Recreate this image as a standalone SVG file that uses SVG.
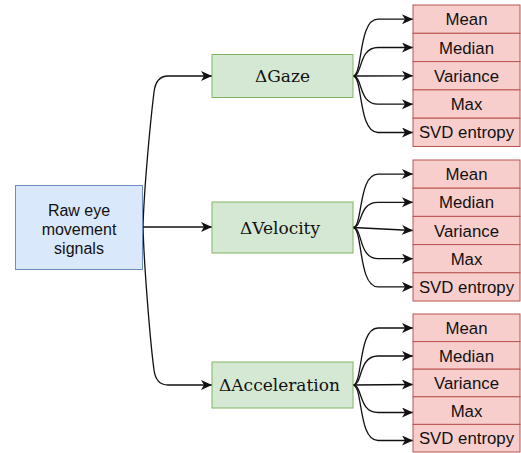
<svg xmlns="http://www.w3.org/2000/svg" width="521" height="453" viewBox="0 0 521 453">
<style>
.raw{fill:#dae8fc;stroke:#6c8ebf;stroke-width:1}
.feat{fill:#d5e8d4;stroke:#82b366;stroke-width:1}
.stat{fill:#f8cecc;stroke:#b85450;stroke-width:1}
.sans{font-family:"Liberation Sans",Arial,sans-serif;font-size:16px;fill:#111;text-anchor:middle}
.st{font-size:16.8px}
.serif{font-family:"DejaVu Serif","Liberation Serif",serif;font-size:17px;fill:#111;text-anchor:middle}
.edge{fill:none;stroke:#111;stroke-width:1.3;marker-end:url(#arr)}
</style>
<defs>
<marker id="arr" markerUnits="userSpaceOnUse" markerWidth="13" markerHeight="11" refX="11" refY="5" orient="auto">
<path d="M0,0 L11,5 L0,10 L3,5 Z" fill="#111"/>
</marker>
</defs>
<g id="connectors">
<path class="edge" d="M143,227 C144,190 150,125 154,92 Q156,76 168,76 L212,76"/>
<path class="edge" d="M143,227 L212,227"/>
<path class="edge" d="M143,227 C144,264 150,340 154,370 Q156,385 168,385 L212,385"/>
<path class="edge" d="M353,76 C363,76 358,19.2 378,19.2 L413,19.2"/>
<path class="edge" d="M353,76 C363,76 358,47.5 378,47.5 L413,47.5"/>
<path class="edge" d="M353,76 L413,75.8"/>
<path class="edge" d="M353,76 C363,76 358,104.2 378,104.2 L413,104.2"/>
<path class="edge" d="M353,76 C363,76 358,132.5 378,132.5 L413,132.5"/>
<path class="edge" d="M353,227.5 C363,227.5 358,174.1 378,174.1 L413,174.1"/>
<path class="edge" d="M353,227.5 C363,227.5 358,202.3 378,202.3 L413,202.3"/>
<path class="edge" d="M353,227.5 L413,230.5"/>
<path class="edge" d="M353,227.5 C363,227.5 358,258.7 378,258.7 L413,258.7"/>
<path class="edge" d="M353,227.5 C363,227.5 358,286.9 378,286.9 L413,286.9"/>
<path class="edge" d="M353,385 C363,385 358,328 378,328 L413,328"/>
<path class="edge" d="M353,385 C363,385 358,356 378,356 L413,356"/>
<path class="edge" d="M353,385 L413,384.5"/>
<path class="edge" d="M353,385 C363,385 358,412.5 378,412.5 L413,412.5"/>
<path class="edge" d="M353,385 C363,385 358,440.5 378,440.5 L413,440.5"/>
</g>
<g id="raw">
<rect class="raw" x="15.5" y="185.5" width="127" height="84"/>
<text class="sans" x="79" y="216">Raw eye</text>
<text class="sans" x="79" y="235">movement</text>
<text class="sans" x="79" y="254">signals</text>
</g>
<g id="gaze">
<rect class="feat" x="212" y="54.5" width="141" height="43"/>
<text class="serif" x="282.5" y="82">ΔGaze</text>
</g>
<g id="velocity">
<rect class="feat" x="212" y="202" width="141" height="51"/>
<text class="serif" x="280" y="233.5">ΔVelocity</text>
</g>
<g id="acceleration">
<rect class="feat" x="212" y="362" width="141" height="46"/>
<text class="serif" x="279.5" y="391">ΔAcceleration</text>
</g>
<g id="gaze-stats">
<rect class="stat" x="413" y="5" width="107" height="28.3"/>
<text class="sans st" x="466.5" y="25.2">Mean</text>
<rect class="stat" x="413" y="33.3" width="107" height="28.3"/>
<text class="sans st" x="466.5" y="53.5">Median</text>
<rect class="stat" x="413" y="61.6" width="107" height="28.3"/>
<text class="sans st" x="466.5" y="81.8">Variance</text>
<rect class="stat" x="413" y="89.9" width="107" height="28.3"/>
<text class="sans st" x="466.5" y="110.1">Max</text>
<rect class="stat" x="413" y="118.2" width="107" height="28.3"/>
<text class="sans st" x="466.5" y="138.4">SVD entropy</text>
</g>
<g id="velocity-stats">
<rect class="stat" x="413" y="160" width="107" height="28.2"/>
<text class="sans st" x="466.5" y="180.2">Mean</text>
<rect class="stat" x="413" y="188.2" width="107" height="28.2"/>
<text class="sans st" x="466.5" y="208.4">Median</text>
<rect class="stat" x="413" y="216.4" width="107" height="28.2"/>
<text class="sans st" x="466.5" y="236.6">Variance</text>
<rect class="stat" x="413" y="244.6" width="107" height="28.2"/>
<text class="sans st" x="466.5" y="264.8">Max</text>
<rect class="stat" x="413" y="272.8" width="107" height="28.2"/>
<text class="sans st" x="466.5" y="293">SVD entropy</text>
</g>
<g id="acceleration-stats">
<rect class="stat" x="413" y="314" width="107" height="27.6"/>
<text class="sans st" x="466.5" y="334">Mean</text>
<rect class="stat" x="413" y="341.6" width="107" height="27.6"/>
<text class="sans st" x="466.5" y="361.6">Median</text>
<rect class="stat" x="413" y="369.2" width="107" height="27.6"/>
<text class="sans st" x="466.5" y="389.2">Variance</text>
<rect class="stat" x="413" y="396.8" width="107" height="27.6"/>
<text class="sans st" x="466.5" y="416.8">Max</text>
<rect class="stat" x="413" y="424.4" width="107" height="27.6"/>
<text class="sans st" x="466.5" y="444.4">SVD entropy</text>
</g>
</svg>
